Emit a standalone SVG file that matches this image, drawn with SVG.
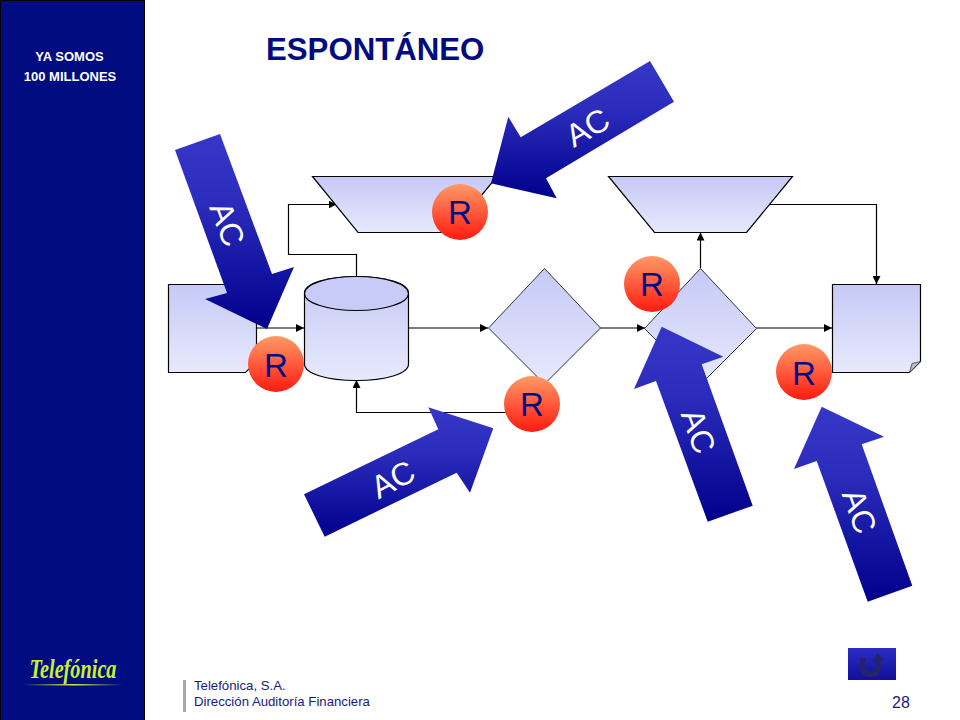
<svg xmlns="http://www.w3.org/2000/svg" width="960" height="720" viewBox="0 0 960 720">
<style>
.n{fill:url(#nf);stroke:#000;stroke-width:1.2}
.c{fill:none;stroke:#000;stroke-width:1.2}
.a{fill:url(#af)}
.at{font:32px "Liberation Sans",Arial,sans-serif;fill:#fff;text-anchor:middle}
.rc{fill:url(#rf)}
.rt{font:33px "Liberation Sans",Arial,sans-serif;fill:#000c80;text-anchor:middle}
.s{font:bold 13px "Liberation Sans",Arial,sans-serif;fill:#fff;text-anchor:middle}
.f{font:13.2px "Liberation Sans",Arial,sans-serif;fill:#1a1a80}
</style>
<defs>
<linearGradient id="nf" x1="0" y1="0" x2="0" y2="1"><stop offset="0" stop-color="#c6c9f6"/><stop offset="1" stop-color="#e8e9fd"/></linearGradient>
<linearGradient id="af" x1="0" y1="0" x2="0" y2="1"><stop offset="0" stop-color="#3636c8"/><stop offset=".35" stop-color="#2c2cbc"/><stop offset="1" stop-color="#00008c"/></linearGradient>
<linearGradient id="rf" x1="0" y1="0" x2="0" y2="1"><stop offset="0" stop-color="#ff9a66"/><stop offset="1" stop-color="#ff1a10"/></linearGradient>
<linearGradient id="bf" x1="0" y1="0" x2="0" y2="1"><stop offset="0" stop-color="#2c2cc4"/><stop offset="1" stop-color="#10109a"/></linearGradient>
<linearGradient id="lf" x1="0" y1="0" x2="1" y2="0"><stop offset="0" stop-color="#c8e632" stop-opacity="0"/><stop offset=".5" stop-color="#d4ec50"/><stop offset="1" stop-color="#c8e632" stop-opacity="0"/></linearGradient>
<marker id="m" markerUnits="userSpaceOnUse" markerWidth="9" markerHeight="8" refX="8" refY="4" orient="auto"><path d="M0 0L8 4L0 8Z" fill="#000"/></marker>
</defs>
<rect width="960" height="720" fill="#fff"/>
<g id="sidebar">
<rect x="0.500" y="0.500" width="144" height="720" fill="#000c80" stroke="#000" stroke-width="1"/>
<text class="s" x="69.500" y="60.500">YA SOMOS</text>
<text class="s" x="70" y="81">100 MILLONES</text>
<text x="73" y="678" font-family="Liberation Serif,serif" font-style="italic" font-weight="bold" font-size="27" fill="#c8f032" text-anchor="middle" textLength="87" lengthAdjust="spacingAndGlyphs">Telefónica</text>
<rect x="23" y="684" width="100" height="1.500" fill="url(#lf)"/>
</g>
<text id="title" x="266" y="60" font-family="Liberation Sans,Arial,sans-serif" font-weight="bold" font-size="31.200" fill="#000c80">ESPONTÁNEO</text>
<g id="connectors">
<path class="c" d="M256.500 328H304" marker-end="url(#m)"/>
<path class="c" d="M356.500 276V254.500H288.500V204.500H336.500" marker-end="url(#m)"/>
<path class="c" d="M409 328H488" marker-end="url(#m)"/>
<path class="c" d="M533 412.500H356.500V380" marker-end="url(#m)"/>
<path class="c" d="M600 328H645" marker-end="url(#m)"/>
<path class="c" d="M700.500 268V232.500" marker-end="url(#m)"/>
<path class="c" d="M756 328H832" marker-end="url(#m)"/>
<path class="c" d="M770 204.500H876.500V284" marker-end="url(#m)"/>
</g>
<g id="node-doc1">
<path class="n" d="M168.500 284.500H256.500V361.500L245.500 372.500H168.500Z"/>
</g>
<g id="node-manual1"><path class="n" d="M312.500 176.500H497L451 232.500H358Z"/></g>
<g id="node-db">
<path class="n" d="M304.500 293C304.500 283 328 276.500 356.500 276.500S408.500 283 408.500 293V364C408.500 374 385 380.500 356.500 380.500S304.500 374 304.500 364Z"/>
<ellipse cx="356.500" cy="293.500" rx="52" ry="17" fill="#c8cbf7" stroke="#000" stroke-width="1.200"/>
</g>
<g id="node-dec1"><path class="n" style="stroke:#333;stroke-width:1" d="M544.500 268.500L600.500 328L544.500 384L488.500 328Z"/></g>
<g id="node-manual2"><path class="n" d="M608.500 176.500H792.500L746.500 232.500H654.500Z"/></g>
<g id="node-dec2"><path class="n" style="stroke:#333;stroke-width:1" d="M700.500 268.500L756.500 328.500L700.500 384.500L644.500 328.500Z"/></g>
<g id="node-doc2">
<path class="n" d="M832.500 284.500H920.500V361.500L909.500 372.500H832.500Z"/>
<path d="M920.500 361.500L909.500 372.500L912 363.500Z" fill="#b8bac8" stroke="#444" stroke-width=".8"/>
</g>
<g id="arrow-1"><path class="a" d="M175 150L220 134L272 274L294 267L267 329L205 299L227 293Z"/><text class="at" transform="translate(217 228) rotate(69)">AC</text></g>
<g id="arrow-2"><path class="a" d="M650 61L674 101.700L546 178.300L556.700 198.300L491 183.300L508.300 116.700L520.700 137.300Z"/><text class="at" transform="translate(593 137) rotate(-30)">AC</text></g>
<g id="arrow-3"><path class="a" d="M304 494.300L324.700 536.700L456.700 472.700L470 492.700L493.300 428.300L428.300 407.300L438.300 429.300Z"/><text class="at" transform="translate(398 489) rotate(-28)">AC</text></g>
<g id="arrow-4"><path class="a" d="M661.700 326.700L723.300 356.700L701.700 364.300L752.700 505.700L707.700 521.700L656 381L634 389Z"/><text class="at" transform="translate(688 435) rotate(70)">AC</text></g>
<g id="arrow-5"><path class="a" d="M821.700 406.700L884 436.700L861.700 444.300L912.300 585.700L867.700 601.700L816.700 461L794 469Z"/><text class="at" transform="translate(849 515) rotate(70)">AC</text></g>
<g id="r-1"><circle class="rc" cx="276" cy="364" r="28"/><text class="rt" x="276" y="377">R</text></g>
<g id="r-2"><circle class="rc" cx="460" cy="212" r="28"/><text class="rt" x="460" y="224">R</text></g>
<g id="r-3"><circle class="rc" cx="652" cy="284" r="28"/><text class="rt" x="652" y="296">R</text></g>
<g id="r-4"><circle class="rc" cx="532" cy="404" r="28"/><text class="rt" x="532" y="416">R</text></g>
<g id="r-5"><circle class="rc" cx="804" cy="372" r="28"/><text class="rt" x="804" y="385">R</text></g>
<g id="footer">
<rect x="183" y="680" width="3" height="32" fill="#a8a8a8"/>
<text class="f" x="194" y="690">Telefónica, S.A.</text>
<text class="f" x="194" y="706">Dirección Auditoría Financiera</text>
<text x="892" y="708" font-family="Liberation Sans,Arial,sans-serif" font-size="16" fill="#1a1a80">28</text>
</g>
<g id="button">
<rect x="848" y="648" width="48" height="32" fill="url(#bf)"/>
<path d="M863 658V667Q863 674 871 674Q878 674 878 667V660" fill="none" stroke="#23236e" stroke-width="6"/>
<path d="M872 661L878 653L884 661Z" fill="#23236e"/>
</g>
</svg>
